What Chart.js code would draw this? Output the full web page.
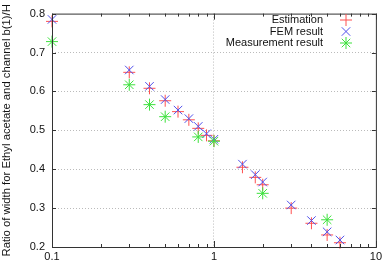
<!DOCTYPE html>
<html>
<head>
<meta charset="utf-8">
<script src="https://cdn.jsdelivr.net/npm/chart.js@4/dist/chart.umd.min.js"></script>
<style>
  body { margin: 0; background: #fff; }
  canvas { display: block; }
</style>
</head>
<body>
<canvas id="grafica" width="385" height="267"></canvas>
<script>
// datos
const xValues = [0.1, 0.3, 0.4, 0.5, 0.6, 0.7, 0.8, 0.9, 1.0, 1.5, 1.8, 2, 3, 4, 5, 6];
const estimation = [0.78, 0.649, 0.608, 0.576, 0.548, 0.527, 0.505, 0.487, 0.473, 0.405, 0.379, 0.36, 0.3, 0.261, 0.231, 0.211];
const femResult = [0.785, 0.655, 0.613, 0.579, 0.552, 0.530, 0.510, 0.491, 0.477, 0.413, 0.386, 0.367, 0.308, 0.268, 0.239, 0.218];
const xMeasure = [0.1, 0.3, 0.4, 0.5, 0.8, 1.0, 2, 5];
const measurement = [0.728, 0.617, 0.566, 0.535, 0.483, 0.472, 0.338, 0.27];
const xTicks = [0.1, 1, 10];
const xMinorTicks = [0.2, 0.3, 0.4, 0.5, 0.6, 0.7, 0.8, 0.9, 2, 3, 4, 5, 6, 7, 8, 9];
const yTicks = [0.2, 0.3, 0.4, 0.5, 0.6, 0.7, 0.8];
const seriesNames = ['Estimation', 'FEM result', 'Measurement result'];
const yTitle = 'Ratio of width for Ethyl acetate and channel b(1)/H';

const colores = ['rgb(255,80,80)', 'rgb(80,80,235)', 'rgb(60,225,60)'];
const estilos = ['cross', 'crossRot', 'star'];
const fuente = '"Liberation Sans", Arial, sans-serif';

function puntos(xs, ys) {
    return xs.map((x, i) => ({ x: x, y: ys[i] }));
}

function serie(i, datos, orden) {
    return {
        label: seriesNames[i],
        data: datos,
        pointStyle: estilos[i],
        borderColor: colores[i],
        backgroundColor: colores[i],
        hoverBorderColor: colores[i],
        hoverBackgroundColor: colores[i],
        pointRadius: 6,
        pointHoverRadius: 6,
        borderWidth: 1,
        pointHoverBorderWidth: 1,
        clip: false,
        order: orden
    };
}

// marco, marcas interiores y leyenda al estilo gnuplot
const marcoPlugin = {
    id: 'marco',
    afterDraw(chart) {
        const ctx = chart.ctx;
        const a = chart.chartArea;
        const sx = chart.scales.x;
        const sy = chart.scales.y;
        ctx.save();
        ctx.strokeStyle = '#333';
        ctx.lineWidth = 1;
        ctx.strokeRect(a.left + 0.5, a.top + 0.5, a.right - a.left, a.bottom - a.top);

        ctx.beginPath();
        xTicks.forEach(v => {
            const px = Math.round(sx.getPixelForValue(v)) + 0.5;
            ctx.moveTo(px, a.bottom); ctx.lineTo(px, a.bottom - 6);
            ctx.moveTo(px, a.top); ctx.lineTo(px, a.top + 6);
        });
        xMinorTicks.forEach(v => {
            const px = Math.round(sx.getPixelForValue(v)) + 0.5;
            ctx.moveTo(px, a.bottom); ctx.lineTo(px, a.bottom - 3);
            ctx.moveTo(px, a.top); ctx.lineTo(px, a.top + 3);
        });
        yTicks.forEach(v => {
            const py = Math.round(sy.getPixelForValue(v)) + 0.5;
            ctx.moveTo(a.left, py); ctx.lineTo(a.left + 4, py);
            ctx.moveTo(a.right, py); ctx.lineTo(a.right - 4, py);
        });
        ctx.stroke();

        // leyenda
        ctx.font = '11px ' + fuente;
        ctx.textAlign = 'right';
        ctx.textBaseline = 'middle';
        seriesNames.forEach((nombre, i) => {
            const y = 20 + i * 11.5;
            ctx.fillStyle = '#111';
            ctx.fillText(nombre, 323, y);
            ctx.strokeStyle = colores[i];
            ctx.fillStyle = colores[i];
            Chart.helpers.drawPoint(ctx, { pointStyle: estilos[i], radius: 6, rotation: 0, borderWidth: 1 }, 346, y);
        });
        ctx.restore();
    }
};

const ctx = document.getElementById('grafica').getContext('2d');

new Chart(ctx, {
    type: 'scatter',
    data: {
        datasets: [
            serie(0, puntos(xValues, estimation), 3),
            serie(1, puntos(xValues, femResult), 2),
            serie(2, puntos(xMeasure, measurement), 1)
        ]
    },
    options: {
        responsive: false,
        animation: false,
        events: [],
        layout: { padding: { top: 9, right: 9, left: 0, bottom: 0 } },
        plugins: {
            legend: { display: false },
            tooltip: { enabled: false }
        },
        scales: {
            x: {
                type: 'logarithmic',
                min: 0.1,
                max: 10,
                afterBuildTicks: s => { s.ticks = xTicks.map(v => ({ value: v })); },
                afterFit: s => { s.height = 20; },
                ticks: {
                    callback: v => String(v),
                    color: '#111',
                    font: { size: 11, family: fuente },
                    padding: 3,
                    maxRotation: 0,
                    autoSkip: false
                },
                grid: {
                    drawTicks: false,
                    color: c => (c.tick && c.tick.value === 1) ? '#bbb' : 'rgba(0,0,0,0)'
                },
                border: { display: false, dash: [1, 2] }
            },
            y: {
                min: 0.2,
                max: 0.8,
                afterBuildTicks: s => { s.ticks = yTicks.map(v => ({ value: v })); },
                afterFit: s => { s.width = 52; },
                ticks: {
                    callback: v => v.toFixed(1),
                    color: '#111',
                    font: { size: 11, family: fuente },
                    padding: 7
                },
                grid: {
                    drawTicks: false,
                    color: c => (c.tick && (c.tick.value > 0.25 && c.tick.value < 0.75)) ? '#bbb' : 'rgba(0,0,0,0)'
                },
                border: { display: false, dash: [1, 2] },
                title: {
                    display: true,
                    text: yTitle,
                    color: '#111',
                    font: { size: 11.3, family: fuente },
                    padding: { top: 0, bottom: 0 }
                }
            }
        }
    },
    plugins: [marcoPlugin]
});
</script>
</body>
</html>
